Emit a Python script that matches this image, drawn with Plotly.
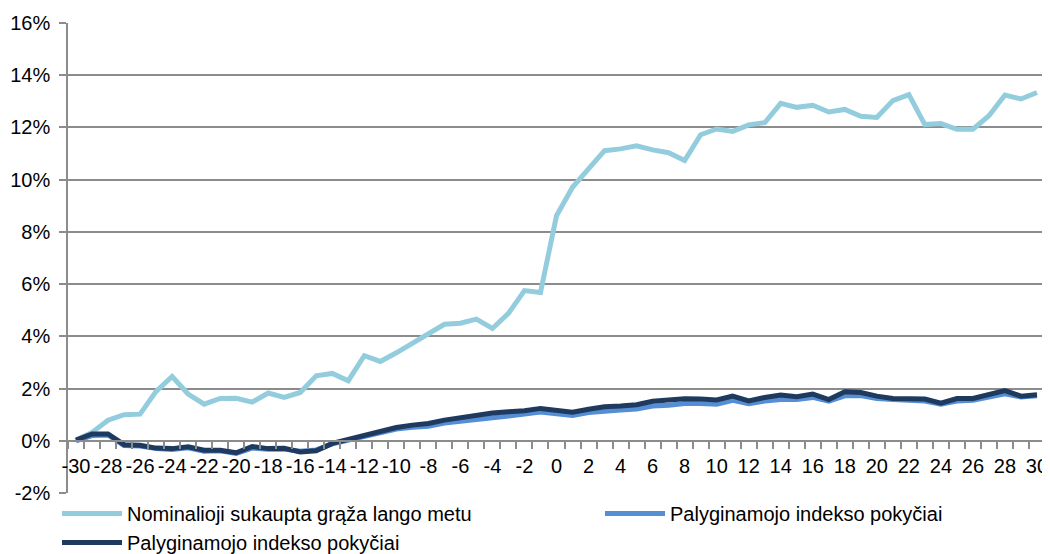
import plotly.graph_objects as go

x_vals = list(range(-30, 31))

nominal = [0.03, 0.32, 0.79, 1.00, 1.02, 1.89, 2.46, 1.79, 1.40, 1.62,
           1.63, 1.48, 1.83, 1.66, 1.85, 2.49, 2.58, 2.30, 3.26, 3.04,
           3.37, 3.73, 4.06, 4.46, 4.50, 4.66, 4.30, 4.88, 5.75, 5.68,
           8.62, 9.71, 10.41, 11.11, 11.18, 11.30, 11.14, 11.03, 10.73, 11.72,
           11.94, 11.85, 12.10, 12.18, 12.92, 12.77, 12.85, 12.59, 12.69, 12.43,
           12.38, 13.03, 13.26, 12.11, 12.15, 11.93, 11.93, 12.45, 13.24, 13.09,
           13.34]

index_a = [0.00, 0.20, 0.22, -0.18, -0.20, -0.30, -0.33, -0.27, -0.40, -0.38,
           -0.48, -0.28, -0.32, -0.32, -0.40, -0.35, -0.12, 0.02, 0.14, 0.32,
           0.45, 0.52, 0.56, 0.68, 0.76, 0.82, 0.88, 0.95, 1.02, 1.10,
           1.03, 0.97, 1.08, 1.15, 1.18, 1.22, 1.33, 1.36, 1.43, 1.43,
           1.40, 1.55, 1.42, 1.52, 1.58, 1.58, 1.66, 1.52, 1.72, 1.73,
           1.62, 1.58, 1.56, 1.52, 1.40, 1.52, 1.55, 1.68, 1.80, 1.68,
           1.72]

index_b = [0.03, 0.26, 0.26, -0.15, -0.17, -0.28, -0.30, -0.23, -0.36, -0.36,
           -0.46, -0.22, -0.30, -0.29, -0.43, -0.38, -0.10, 0.05, 0.19, 0.38,
           0.51, 0.60, 0.66, 0.79, 0.89, 0.98, 1.06, 1.11, 1.15, 1.24,
           1.15, 1.09, 1.21, 1.30, 1.33, 1.38, 1.51, 1.56, 1.61, 1.60,
           1.56, 1.71, 1.53, 1.66, 1.75, 1.69, 1.79, 1.58, 1.88, 1.85,
           1.71, 1.62, 1.60, 1.60, 1.44, 1.62, 1.62, 1.79, 1.92, 1.71,
           1.76]

series_names = ["Nominalioji sukaupta grąža lango metu",
                "Palyginamojo indekso pokyčiai",
                "Palyginamojo indekso pokyčiai"]
series_colors = ["#93CDDD", "#558ED5", "#1F3A5F"]
series_legends = ["legend", "legend2", "legend"]
series_groups = ["g1", "g2", "g3"]

y_ticks = list(range(-2, 17, 2))
x_ticks = list(range(-30, 31, 2))

fig = go.Figure()
for name, vals, col, lg, grp in zip(series_names, [nominal, index_a, index_b],
                                   series_colors, series_legends, series_groups):
    fig.add_trace(go.Scatter(x=x_vals, y=vals, mode="lines", name=name,
                             legend=lg, legendgroup=grp,
                             line=dict(color=col, width=5)))

grid_col = "#8c8c8c"
font_family = "Liberation Sans, Arial, sans-serif"
fs = 20
W, H = 1042, 546

fig.update_layout(
    width=W, height=H,
    paper_bgcolor="white", plot_bgcolor="white",
    margin=dict(l=60, r=5, t=15, b=61, autoexpand=False),
    font=dict(family=font_family, size=fs, color="black"),
    showlegend=True,
    legend=dict(orientation="v", xref="container", yref="container",
                x=49 / W, y=1 - 486 / H, xanchor="left", yanchor="top",
                itemwidth=60, tracegroupgap=7, bgcolor="rgba(0,0,0,0)",
                font=dict(size=fs, family=font_family), traceorder="normal"),
    legend2=dict(orientation="v", xref="container", yref="container",
                 x=592 / W, y=1 - 486 / H, xanchor="left", yanchor="top",
                 itemwidth=60, bgcolor="rgba(0,0,0,0)",
                 font=dict(size=fs, family=font_family)),
    xaxis=dict(range=[-30.5, 30.5], tickmode="array", tickvals=x_ticks,
               ticktext=[str(v) for v in x_ticks],
               showgrid=False, zeroline=False, showline=True,
               linecolor=grid_col, linewidth=1.5,
               anchor="free", position=2 / 18, ticks="",
               ticklabelstandoff=7,
               minor=dict(tickmode="linear", tick0=0.5, dtick=1, ticks="outside",
                          ticklen=7, tickwidth=1.5, tickcolor=grid_col, showgrid=False),
               tickfont=dict(size=fs)),
    yaxis=dict(range=[-2, 16], tickmode="array", tickvals=y_ticks,
               ticktext=[f"{v}%" for v in y_ticks],
               domain=[0, 1],
               showgrid=True, gridcolor=grid_col, gridwidth=1.5,
               zeroline=False, showline=True, linecolor=grid_col, linewidth=1.5,
               ticks="outside", ticklen=7, tickwidth=1.5, tickcolor=grid_col,
               ticklabelstandoff=5,
               tickfont=dict(size=fs)),
)

fig.write_html("out.html")
